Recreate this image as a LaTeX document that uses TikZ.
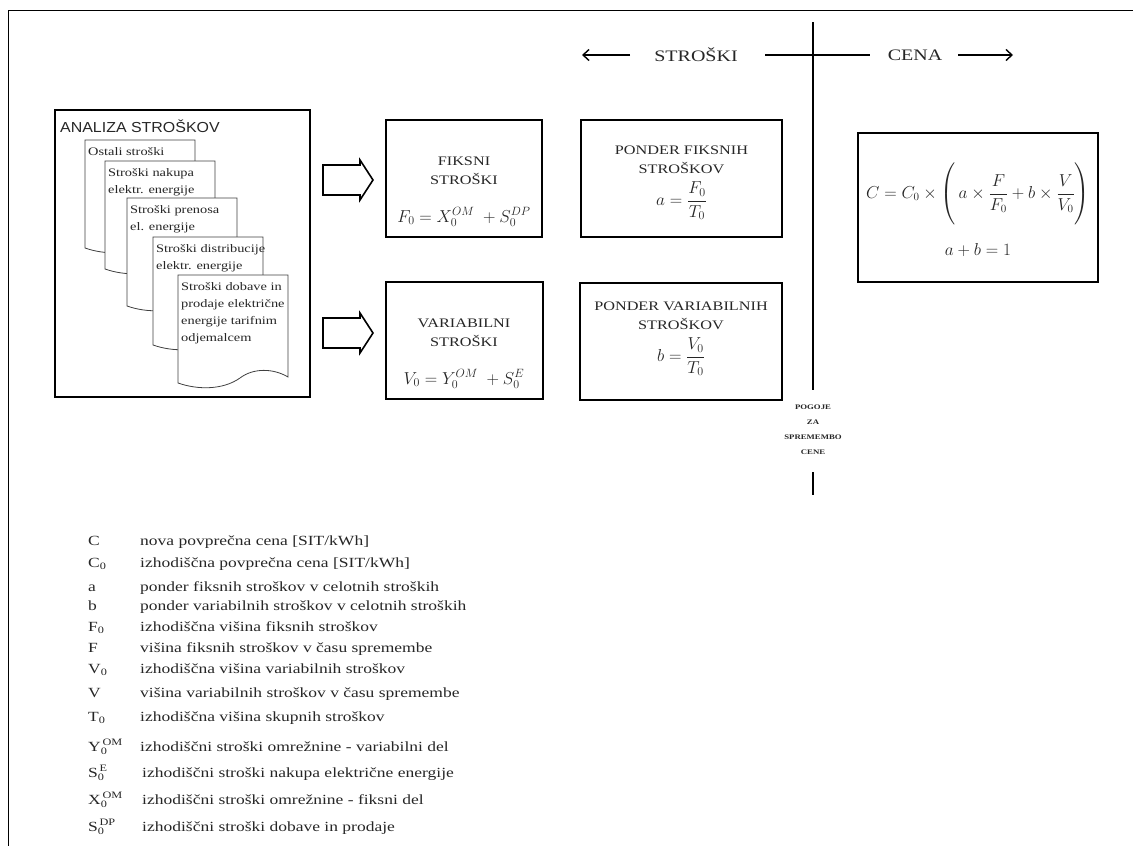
\documentclass[tikz,border=0pt]{standalone}
\usepackage{fontspec}
\setmainfont{Liberation Serif}[FakeStretch=1.25]
\newfontfamily\sansf{Liberation Sans}[FakeStretch=1.1]
\usepackage{amsmath}
\usetikzlibrary{arrows.meta}
\newcommand\fsz[2]{\fontsize{#1}{#2}\selectfont}
\newcommand\symsb[3]{$\text{#1}_{\text{#2}}^{\,\text{#3}}$}
\newcommand\docshp[3]{%
  \filldraw[docst] (#1,#2) -- (#1,#2+108)
    .. controls (#1+20,#2+115) and (#1+45,#2+115) .. (#1+62,#2+103)
    .. controls (#1+75,#2+93) and (#1+95,#2+93) .. (#1+110,#2+102)
    -- (#1+110,#2) -- cycle;
  \node[doctext] (#3) at (#1+3,#2+7)}
\begin{document}
\begin{tikzpicture}[x=1pt,y=-1pt,
  every node/.style={text=black!85},
  frame/.style={line width=1pt},
  box/.style={draw=black, line width=1.6pt, inner sep=0pt},
  boxtext/.style={inner sep=0pt, align=center, font=\fsz{13}{19}},
  boxmath/.style={inner sep=0pt, font=\fsz{17}{19}},
  docst/.style={draw=black!75, fill=white, line width=0.8pt},
  doctext/.style={anchor=north west, inner sep=0pt, align=left, font=\fsz{11.5}{17}},
  blockarr/.style={draw, line width=1.6pt, line join=miter},
  axis/.style={line width=1.6pt},
  toparr/.style={line width=1.4pt, -{Straight Barb[length=6pt,width=11pt]}},
  toplbl/.style={inner sep=0pt, font=\fsz{16}{18}},
  sym/.style={anchor=base west, inner sep=0pt, font=\fsz{14}{16}},
  desc/.style={anchor=base west, inner sep=0pt, font=\fsz{14}{16}},
  pog/.style={inner sep=0pt, align=center, font=\fsz{7}{15}\bfseries}
]
\useasboundingbox (0,0) rectangle (1133,846);
% frame
\draw[frame] (8,846) -- (8,10) -- (1133,10);

% analysis box
\node[box, minimum width=255pt, minimum height=287pt] (analiza) at (182.5,253.5) {};
\node[anchor=base west, inner sep=0pt, font=\sansf\fsz{14.5}{16}] (analizaT) at (60,132) {ANALIZA STROŠKOV};

% documents
\docshp{85}{140}{d1}{Ostali stroški};
\docshp{105}{161}{d2}{Stroški nakupa\\elektr. energije};
\docshp{127}{198}{d3}{Stroški prenosa\\el. energije};
\docshp{153}{237}{d4}{Stroški distribucije\\elektr. energije};
\docshp{178}{275}{d5}{Stroški dobave in\\prodaje električne\\energije tarifnim\\odjemalcem};

% block arrows
\draw[blockarr] (323,165) -- (360,165) -- (360,160) -- (373,180) -- (360,200) -- (360,195) -- (323,195) -- cycle;
\draw[blockarr] (323,318) -- (360,318) -- (360,313) -- (373,333) -- (360,353) -- (360,348) -- (323,348) -- cycle;

% cost boxes
\node[box, minimum width=156pt, minimum height=117pt] (fiksni) at (464,178.5) {};
\node[boxtext] (fiksniT) at (464,171) {FIKSNI\\STROŠKI};
\node[boxmath] (fiksniF) at (464,217) {$F_0 = X_0^{OM} \;+ S_0^{DP}$};

\node[box, minimum width=157pt, minimum height=117pt] (variab) at (464.5,340.5) {};
\node[boxtext] (variabT) at (464,333) {VARIABILNI\\STROŠKI};
\node[boxmath] (variabF) at (464,379) {$V_0 = Y_0^{OM} \;+ S_0^{E}$};

\node[box, minimum width=201pt, minimum height=117pt] (pfiksni) at (681.5,178.5) {};
\node[boxtext] (pfiksniT) at (681.5,160) {PONDER FIKSNIH\\STROŠKOV};
\node[boxmath] (pfiksniF) at (681.5,201) {$a = \dfrac{F_0}{T_0}$};

\node[box, minimum width=202pt, minimum height=117pt] (pvariab) at (681,341.5) {};
\node[boxtext] (pvariabT) at (681,315.5) {PONDER VARIABILNIH\\STROŠKOV};
\node[boxmath] (pvariabF) at (681,357) {$b = \dfrac{V_0}{T_0}$};

% formula box
\node[box, minimum width=240pt, minimum height=149pt] (formula) at (978,207.5) {};
\node[inner sep=0pt, font=\fsz{16}{18}] (formC) at (978,194) {$C = C_0 \times\left(\vrule height 28pt depth 26pt width 0pt\, a \times \dfrac{F}{F_0} + b \times \dfrac{V}{V_0}\right)$};
\node[inner sep=0pt, font=\fsz{17}{18}] (formAB) at (978,250) {$a + b = 1$};

% axes
\coordinate (v1) at (813,22);
\coordinate (v2) at (813,390);
\coordinate (v3) at (813,472);
\coordinate (v4) at (813,495);
\coordinate (h1) at (765,55);
\coordinate (h2) at (870,55);
\draw[axis] (v1) -- (v2);
\draw[axis] (v3) -- (v4);
\draw[line width=1.3pt] (h1) -- (h2);
\node[pog] (pogoje) at (813,430) {POGOJE\\ZA\\SPREMEMBO\\CENE};

\node[toplbl] (stroski) at (696,55) {STROŠKI};
\node[toplbl] (cena) at (915,55) {CENA};
\coordinate (la1) at (630,55);
\coordinate (la2) at (582,55);
\coordinate (ra1) at (958,55);
\coordinate (ra2) at (1013,55);
\draw[toparr] (la1) -- (la2);
\draw[toparr] (ra1) -- (ra2);

% legend
\node[sym] (s1)  at (88,545) {C};
\node[desc] (t1)  at (140,545) {nova povprečna cena [SIT/kWh]};
\node[sym] (s2)  at (88,567) {C\textsubscript{0}};
\node[desc] (t2)  at (140,567) {izhodiščna povprečna cena [SIT/kWh]};
\node[sym] (s3)  at (88,591) {a};
\node[desc] (t3)  at (140,591) {ponder fiksnih stroškov v celotnih stroških};
\node[sym] (s4)  at (88,610) {b};
\node[desc] (t4)  at (140,610) {ponder variabilnih stroškov v celotnih stroških};
\node[sym] (s5)  at (88,631) {F\textsubscript{0}};
\node[desc] (t5)  at (140,631) {izhodiščna višina fiksnih stroškov};
\node[sym] (s6)  at (88,652) {F};
\node[desc] (t6)  at (140,652) {višina fiksnih stroškov v času spremembe};
\node[sym] (s7)  at (88,673) {V\textsubscript{0}};
\node[desc] (t7)  at (140,673) {izhodiščna višina variabilnih stroškov};
\node[sym] (s8)  at (88,697) {V};
\node[desc] (t8)  at (140,697) {višina variabilnih stroškov v času spremembe};
\node[sym] (s9)  at (88,721) {T\textsubscript{0}};
\node[desc] (t9)  at (140,721) {izhodiščna višina skupnih stroškov};
\node[sym] (s10) at (88,751) {\symsb{Y}{0}{OM}};
\node[desc] (t10) at (140,751) {izhodiščni stroški omrežnine - variabilni del};
\node[sym] (s11) at (88,777) {\symsb{S}{0}{E}};
\node[desc] (t11) at (142,777) {izhodiščni stroški nakupa električne energije};
\node[sym] (s12) at (88,804) {\symsb{X}{0}{OM}};
\node[desc] (t12) at (142,804) {izhodiščni stroški omrežnine - fiksni del};
\node[sym] (s13) at (88,831) {\symsb{S}{0}{DP}};
\node[desc] (t13) at (142,831) {izhodiščni stroški dobave in prodaje};
\end{tikzpicture}
\end{document}
